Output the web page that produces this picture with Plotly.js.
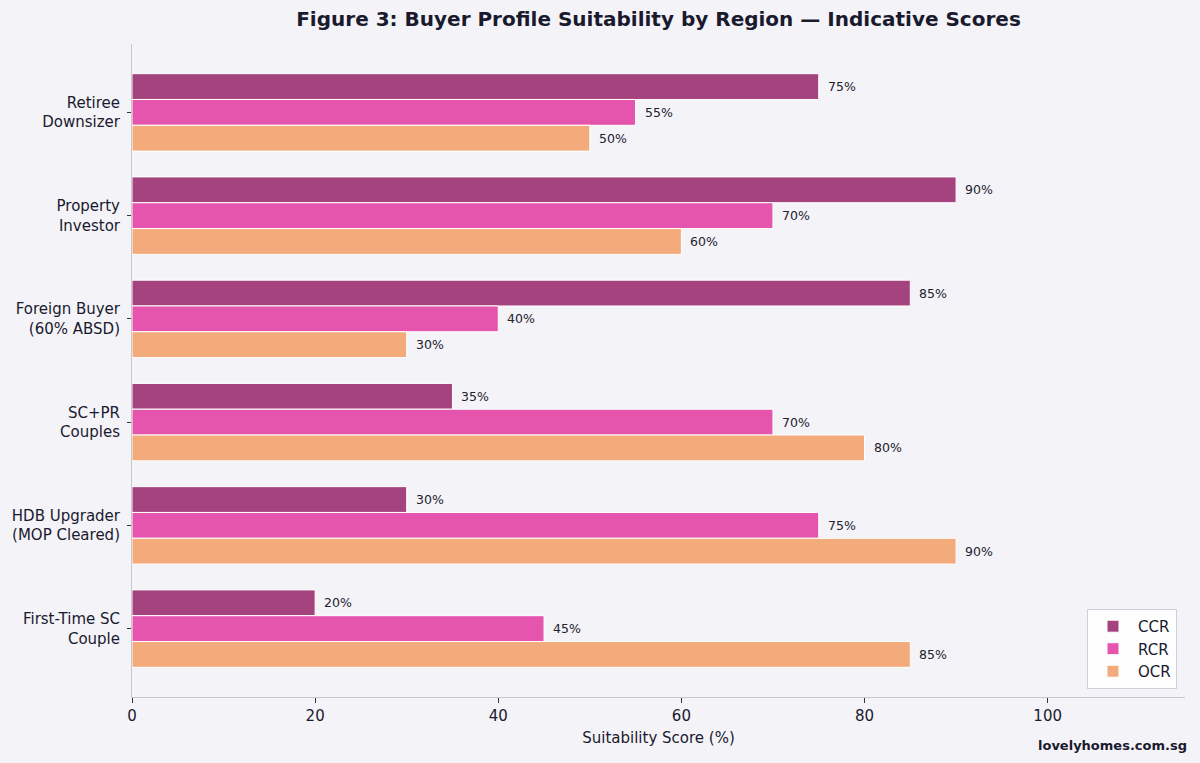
<!DOCTYPE html>
<html>
<head>
<meta charset="utf-8">
<script src="https://cdn.plot.ly/plotly-3.0.1.min.js"></script>
<style>
  html, body { margin: 0; padding: 0; background: #f4f3f8; }
  #chart { width: 1200px; height: 763px; }
</style>
</head>
<body>
<div id="chart"></div>
<script>
// Buyer profiles, listed top to bottom
const profiles = [
  'Retiree<br>Downsizer',
  'Property<br>Investor',
  'Foreign Buyer<br>(60% ABSD)',
  'SC+PR<br>Couples',
  'HDB Upgrader<br>(MOP Cleared)',
  'First-Time SC<br>Couple'
];

// Indicative suitability scores (%) per region
const ccrScores = [75, 90, 85, 35, 30, 20];
const rcrScores = [55, 70, 40, 70, 75, 45];
const ocrScores = [50, 60, 30, 80, 90, 85];

const regionNames = ['CCR', 'RCR', 'OCR'];
const regionColors = ['#a5437f', '#e655ad', '#f4ab7c'];
const regionScores = [ccrScores, rcrScores, ocrScores];

const textColor = '#1a1a2e';
const fontFamily = 'DejaVu Sans, sans-serif';

const traces = regionNames.map((name, i) => ({
  type: 'bar',
  orientation: 'h',
  name: name,
  x: regionScores[i],
  y: profiles,
  marker: { color: regionColors[i], line: { color: '#ffffff', width: 1 } },
  hoverinfo: 'x+name'
}));

// Value labels placed just past the end of each bar
const slot = 0.25;
const annotations = [];
regionScores.forEach((scores, r) => {
  scores.forEach((v, c) => {
    annotations.push({
      x: v,
      y: c + (r - 1) * slot,
      xref: 'x', yref: 'y',
      text: v + '%',
      showarrow: false,
      xanchor: 'left',
      yanchor: 'middle',
      xshift: 7,
      font: { family: fontFamily, size: 12.5, color: '#22222e' }
    });
  });
});

// Site credit in the lower right corner
annotations.push({
  x: 1, y: 0,
  xref: 'paper', yref: 'paper',
  xanchor: 'right', yanchor: 'middle',
  xshift: 4, yshift: -48,
  text: '<b>lovelyhomes.com.sg</b>',
  showarrow: false,
  font: { family: fontFamily, size: 13, color: textColor }
});

const layout = {
  width: 1200,
  height: 763,
  paper_bgcolor: '#f4f3f8',
  plot_bgcolor: '#f4f3f8',
  margin: { l: 132, r: 15, t: 44, b: 66 },
  font: { family: fontFamily, color: textColor },
  title: {
    text: '<b>Figure 3: Buyer Profile Suitability by Region — Indicative Scores</b>',
    font: { family: fontFamily, size: 20, color: textColor },
    xref: 'paper', x: 0.5, xanchor: 'center',
    y: 0.975, yanchor: 'middle'
  },
  barmode: 'group',
  bargap: 0.25,
  bargroupgap: 0,
  showlegend: true,
  legend: {
    x: 0.9924, y: 0.0123,
    xanchor: 'right', yanchor: 'bottom',
    bgcolor: 'rgba(255,255,255,0.85)',
    bordercolor: '#d0d0d8',
    borderwidth: 1,
    itemwidth: 40,
    font: { family: fontFamily, size: 15, color: textColor },
    tracegroupgap: 0
  },
  xaxis: {
    range: [0, 115],
    tickvals: [0, 20, 40, 60, 80, 100],
    ticks: 'outside',
    ticklen: 5,
    tickcolor: '#333344',
    showgrid: false,
    zeroline: false,
    showline: true,
    linecolor: '#c8c8cc',
    linewidth: 1,
    tickfont: { family: fontFamily, size: 15, color: textColor },
    title: {
      text: 'Suitability Score (%)',
      font: { family: fontFamily, size: 15, color: textColor },
      standoff: 8
    }
  },
  yaxis: {
    type: 'category',
    categoryorder: 'array',
    categoryarray: profiles,
    range: [5.6625, -0.6625],
    ticks: 'outside',
    ticklen: 4,
    tickcolor: '#333344',
    ticklabelstandoff: 4,
    showgrid: false,
    zeroline: false,
    showline: true,
    linecolor: '#c8c8cc',
    linewidth: 1,
    tickfont: { family: fontFamily, size: 15, color: textColor }
  },
  annotations: annotations
};

Plotly.newPlot('chart', traces, layout, { displayModeBar: false, staticPlot: true });
</script>
</body>
</html>
